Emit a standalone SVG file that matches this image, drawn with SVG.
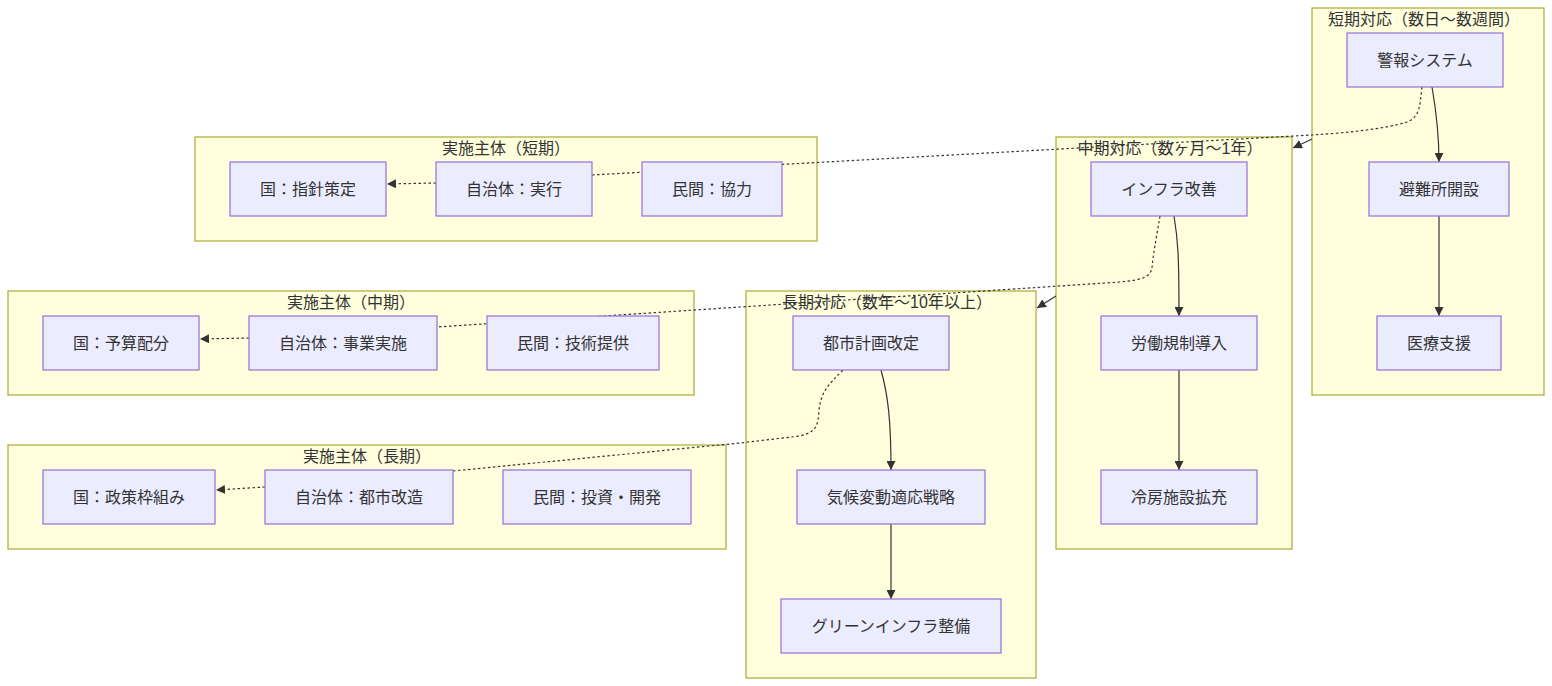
<svg xmlns="http://www.w3.org/2000/svg" width="1552" height="686" viewBox="0 0 1552 686">
<defs>
<style>
.cluster rect{fill:#ffffde;stroke:#aaaa33;stroke-width:1.2}
.node rect{fill:#ECECFF;stroke:#9370DB;stroke-width:1.2}
text{font-family:"Liberation Sans","Noto Sans CJK JP",sans-serif;font-size:16px;fill:#333;text-anchor:middle;dominant-baseline:central}
.edge{fill:none;stroke:#333;stroke-width:1.2}
.dot{fill:none;stroke:#333;stroke-width:1.2;stroke-dasharray:2.5,2.5}
</style>
<marker id="arr" viewBox="0 0 10 10" refX="10" refY="5" markerWidth="9" markerHeight="9" markerUnits="userSpaceOnUse" orient="auto">
<path d="M0,0 L10,5 L0,10 z" fill="#333"/>
</marker>
</defs>
<rect width="1552" height="686" fill="#fff"/>
<g id="clusters">
<g id="c-short" class="cluster"><rect x="1312" y="8" width="232" height="387"/><text x="1424" y="19">短期対応（数日～数週間）</text></g>
<g id="c-mid" class="cluster"><rect x="1056" y="137" width="236" height="412"/></g>
<g id="c-long" class="cluster"><rect x="746" y="291" width="290" height="387"/></g>
<g id="c-actor-short" class="cluster"><rect x="195" y="137" width="622" height="104"/><text x="506" y="148">実施主体（短期）</text></g>
<g id="c-actor-mid" class="cluster"><rect x="8" y="291" width="686" height="104"/><text x="351" y="302">実施主体（中期）</text></g>
<g id="c-actor-long" class="cluster"><rect x="8" y="445" width="718" height="104"/><text x="367" y="456">実施主体（長期）</text></g>
</g>
<g id="cluster-titles">
<text x="1170" y="148">中期対応（数ヶ月～1年）</text>
<text x="887" y="302">長期対応（数年～10年以上）</text>
</g>
<g id="connectors">
<path class="edge" d="M1432,87 C1436,110 1439,130 1439,162" marker-end="url(#arr)"/>
<path class="edge" d="M1439,216 L1439,316" marker-end="url(#arr)"/>
<path class="edge" d="M1174,216 C1178,240 1179,255 1179,316" marker-end="url(#arr)"/>
<path class="edge" d="M1179,370 L1179,470" marker-end="url(#arr)"/>
<path class="edge" d="M881,370 C888,395 891,420 891,470" marker-end="url(#arr)"/>
<path class="edge" d="M891,524 L891,599" marker-end="url(#arr)"/>
<path class="edge" d="M1312,139 L1293,148" marker-end="url(#arr)"/>
<path class="edge" d="M1056,296 L1037,308" marker-end="url(#arr)"/>
<path class="dot" d="M1422,87 C1420,105 1420,117 1407,122 C1385,129 1345,133 1312,135 L592,175"/>
<path class="dot" d="M436,183 L387,184" marker-end="url(#arr)"/>
<path class="dot" d="M1160,216 C1156,240 1153,255 1152,268 C1150,278 1140,280 1120,282 L437,327"/>
<path class="dot" d="M249,338 L200,339" marker-end="url(#arr)"/>
<path class="dot" d="M843,370 C828,385 821,392 819,410 C818,428 815,432 800,436 L740,443 L453,471"/>
<path class="dot" d="M265,487 L216,490" marker-end="url(#arr)"/>
</g>
<g id="n-alert" class="node"><rect x="1347" y="33" width="156" height="54"/><text x="1425" y="60">警報システム</text></g>
<g id="n-shelter" class="node"><rect x="1369" y="162" width="140" height="54"/><text x="1439" y="189">避難所開設</text></g>
<g id="n-medical" class="node"><rect x="1377" y="316" width="124" height="54"/><text x="1439" y="343">医療支援</text></g>
<g id="n-infra" class="node"><rect x="1091" y="162" width="156" height="54"/><text x="1169" y="189">インフラ改善</text></g>
<g id="n-labor" class="node"><rect x="1101" y="316" width="156" height="54"/><text x="1179" y="343">労働規制導入</text></g>
<g id="n-cooling" class="node"><rect x="1101" y="470" width="156" height="54"/><text x="1179" y="497">冷房施設拡充</text></g>
<g id="n-urban" class="node"><rect x="793" y="316" width="156" height="54"/><text x="871" y="343">都市計画改定</text></g>
<g id="n-climate" class="node"><rect x="797" y="470" width="188" height="54"/><text x="891" y="497">気候変動適応戦略</text></g>
<g id="n-green" class="node"><rect x="781" y="599" width="220" height="54"/><text x="891" y="626">グリーンインフラ整備</text></g>
<g id="n-gov-s" class="node"><rect x="230" y="162" width="156" height="54"/><text x="308" y="189">国：指針策定</text></g>
<g id="n-loc-s" class="node"><rect x="436" y="162" width="156" height="54"/><text x="514" y="189">自治体：実行</text></g>
<g id="n-pri-s" class="node"><rect x="642" y="162" width="140" height="54"/><text x="712" y="189">民間：協力</text></g>
<g id="n-gov-m" class="node"><rect x="43" y="316" width="156" height="54"/><text x="121" y="343">国：予算配分</text></g>
<g id="n-loc-m" class="node"><rect x="249" y="316" width="188" height="54"/><text x="343" y="343">自治体：事業実施</text></g>
<g id="n-pri-m" class="node"><rect x="487" y="316" width="172" height="54"/><text x="573" y="343">民間：技術提供</text></g>
<g id="n-gov-l" class="node"><rect x="43" y="470" width="172" height="54"/><text x="129" y="497">国：政策枠組み</text></g>
<g id="n-loc-l" class="node"><rect x="265" y="470" width="188" height="54"/><text x="359" y="497">自治体：都市改造</text></g>
<g id="n-pri-l" class="node"><rect x="503" y="470" width="188" height="54"/><text x="597" y="497">民間：投資・開発</text></g>
</svg>
